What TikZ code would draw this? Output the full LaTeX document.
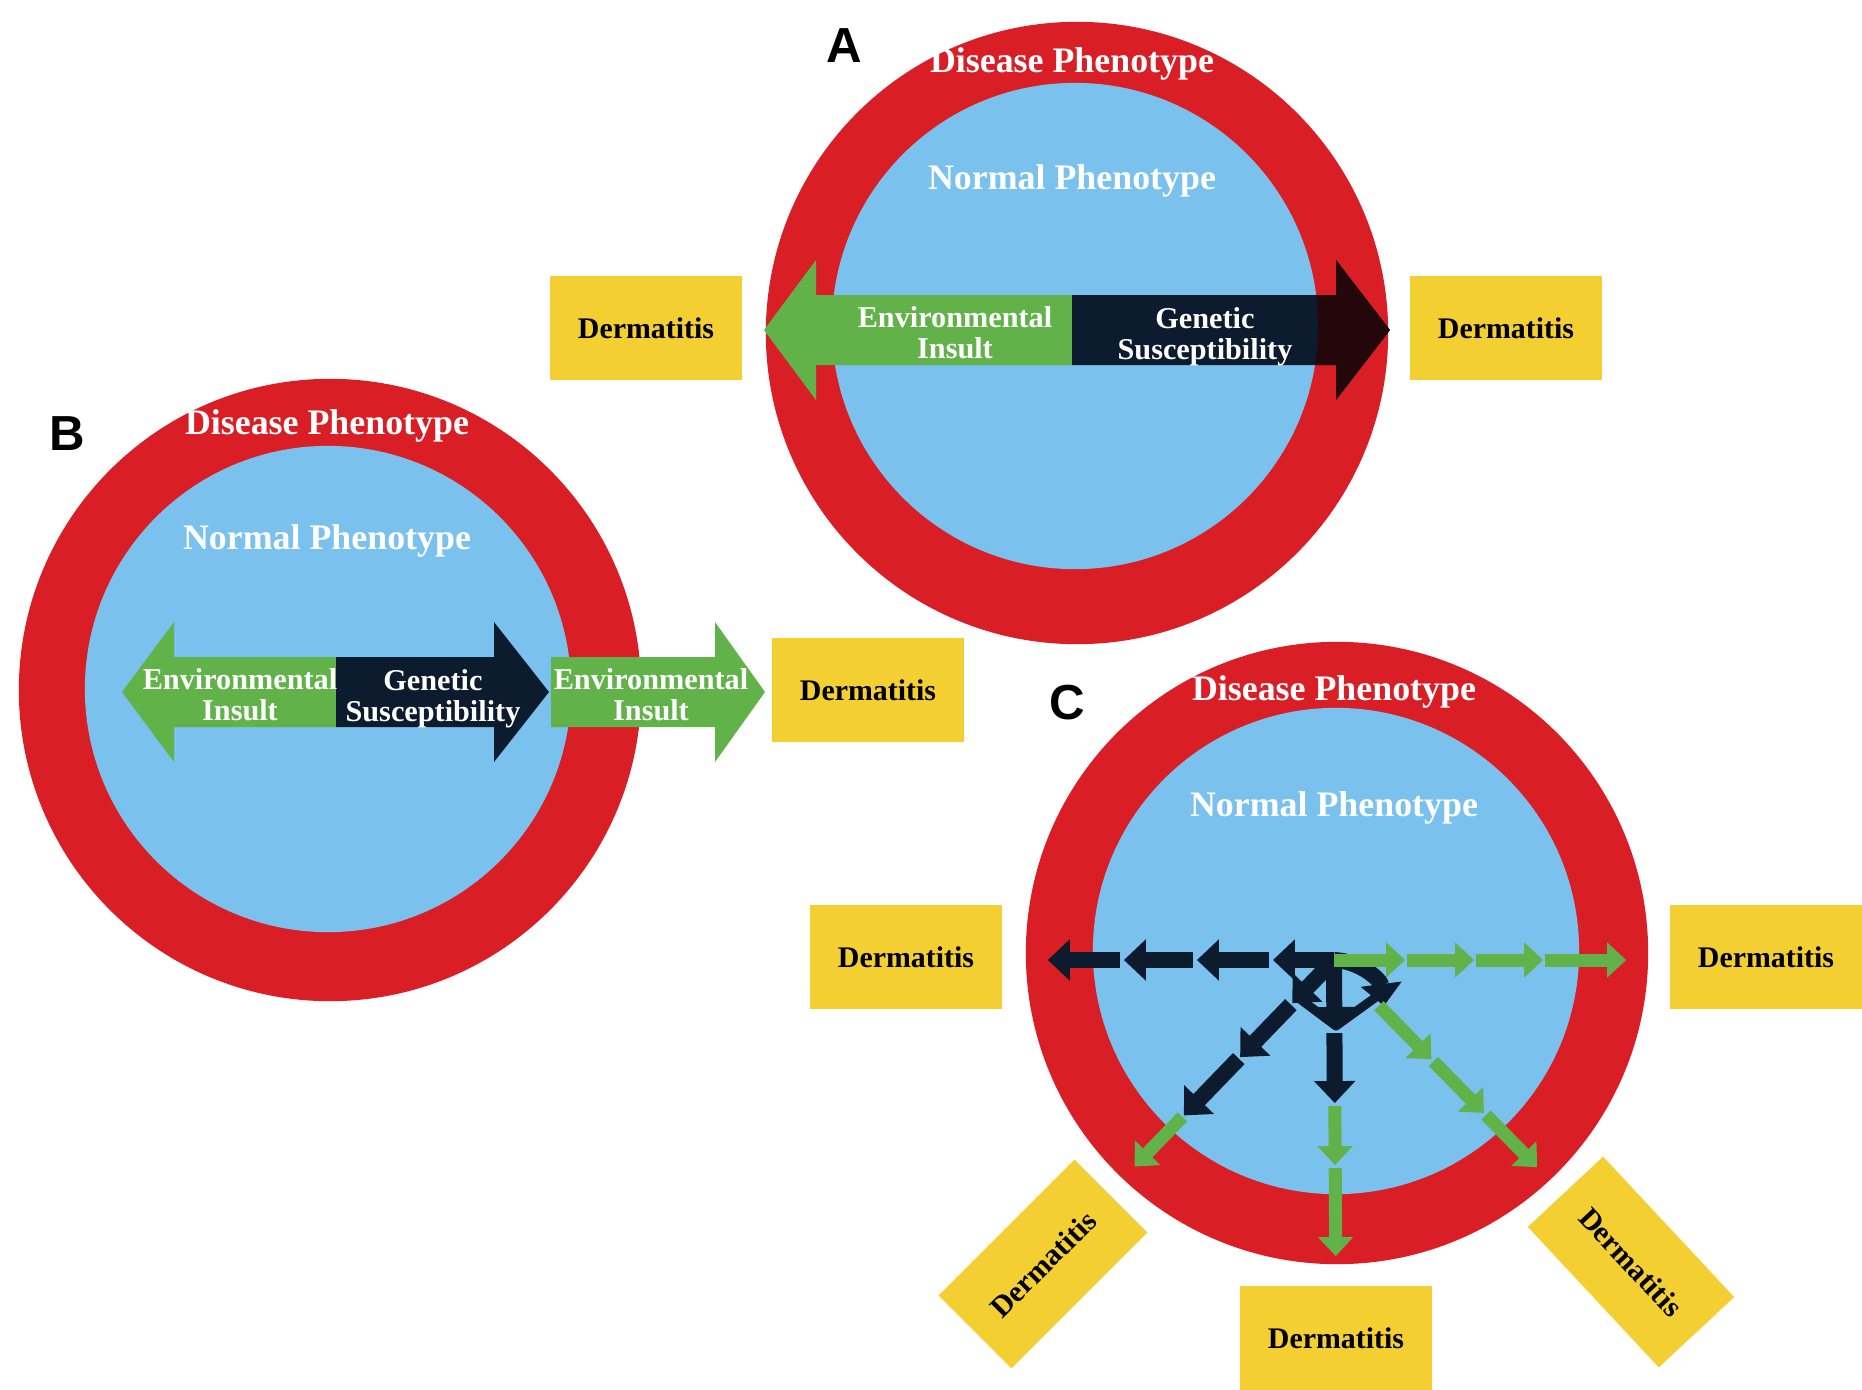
\documentclass[tikz,border=0pt]{standalone}
\usepackage{fontspec}
\setmainfont{Liberation Serif}
\newfontfamily\panelfont{Liberation Sans}
\usepackage{xcolor}
\usepackage{tikz}
\usetikzlibrary{arrows.meta, calc}

\definecolor{ringred}{RGB}{218,30,38}
\definecolor{skyblue}{RGB}{122,193,237}
\definecolor{envgreen}{RGB}{98,178,74}
\definecolor{genenavy}{RGB}{12,27,46}
\definecolor{genemaroon}{RGB}{36,7,11}
\definecolor{boxyellow}{RGB}{244,207,50}

\tikzset{
  ringtext/.style={text=white, font=\bfseries\fontsize{10.2}{12}\selectfont},
  arrowtext/.style={text=white, align=center, inner sep=0pt, font=\bfseries\fontsize{8.6}{8.8}\selectfont},
  dermbox/.style={fill=boxyellow, minimum width=1.92cm, minimum height=1.03cm, inner sep=0pt, font=\bfseries\fontsize{8.5}{10}\selectfont},
  panel/.style={font=\panelfont\bfseries\fontsize{14}{16}\selectfont},
  darkstep/.style={genenavy, line width=0.16cm, -{Triangle[width=0.40cm,length=0.22cm]}},
  greenstep/.style={envgreen, line width=0.13cm, -{Triangle[width=0.34cm,length=0.19cm]}},
}

\begin{document}
\begin{tikzpicture}[x=0.01cm, y=-0.01cm]
  \useasboundingbox (0,0) rectangle (1862,1390);

  % Rings: disease phenotype (red) round normal phenotype (blue)
  \foreach \cx/\cy/\ix/\iy in {1077/333/1075/326, 330/690/328/689, 1337/953/1336/951}{
    \fill[ringred] (\cx,\cy) circle[radius=3.11cm];
    \fill[skyblue] (\ix,\iy) circle[radius=2.43cm];
  }

  % Block arrows of panels A and B
  \foreach \from/\base/\tip/\y/\col in {1072/816/764/330/envgreen, 1072/1336/1390/330/genenavy,
      336/174/122/692/envgreen, 336/494/549/692/genenavy, 551/715/765/692/envgreen}{
    \fill[\col] (\from,\y-35) -- (\base,\y-35) -- (\base,\y-70) -- (\tip,\y)
      -- (\base,\y+70) -- (\base,\y+35) -- (\from,\y+35) -- cycle;
  }
  % darker where the genetic arrow of A lies on the red ring
  \begin{scope}
    \clip (1072,295) -- (1336,295) -- (1336,260) -- (1390,330) -- (1336,400) -- (1336,365) -- (1072,365) -- cycle;
    \fill[genemaroon, even odd rule] (1077,333) circle[radius=3.2cm] (1075,326) circle[radius=2.43cm];
  \end{scope}

  \node[arrowtext] (envA) at (955,333) {Environmental\\Insult};
  \node[arrowtext] (geneA) at (1205,337) {Genetic\\Susceptibility};
  \node[arrowtext] (envB) at (240,695) {Environmental\\Insult};
  \node[arrowtext] (geneB) at (433,699) {Genetic\\Susceptibility};
  \node[arrowtext] (envBout) at (651,695) {Environmental\\Insult};

  % Panel C: stepwise arrows from the hub
  \coordinate (hubC) at (1334,960);
  \coordinate (towardL) at (1000,960);
  \coordinate (towardR) at (1700,960);
  \coordinate (towardDL) at (1134,1167);
  \coordinate (towardD) at (1336,1300);
  \coordinate (towardDR) at (1537,1167);

  \draw[genenavy, line width=0.09cm, line join=round]
    ($(hubC)!0.52cm!(towardDL)$) -- (1336,1026) -- (1376,997);
  \draw[darkstep] (hubC) -- ($(hubC)!0.60cm!(towardDL)$);
  \draw[darkstep] (hubC) -- ($(hubC)!0.69cm!(towardD)$);
  \draw[darkstep] (hubC) to[bend left=40] (1384,1006);

  \foreach \a/\b in {0cm/0.61cm, 0.65cm/1.37cm, 1.41cm/2.10cm, 2.14cm/2.86cm}
    \draw[darkstep] ($(hubC)!\a!(towardL)$) -- ($(hubC)!\b!(towardL)$);
  \foreach \a/\b in {0cm/0.71cm, 0.73cm/1.40cm, 1.42cm/2.09cm, 2.11cm/2.92cm}
    \draw[greenstep] ($(hubC)!\a!(towardR)$) -- ($(hubC)!\b!(towardR)$);
  \foreach \a/\b in {0.62cm/1.35cm, 1.37cm/2.16cm}
    \draw[darkstep] ($(hubC)!\a!(towardDL)$) -- ($(hubC)!\b!(towardDL)$);
  \draw[greenstep] ($(hubC)!2.18cm!(towardDL)$) -- ($(hubC)!2.87cm!(towardDL)$);
  \draw[darkstep] ($(hubC)!0.73cm!(towardD)$) -- ($(hubC)!1.43cm!(towardD)$);
  \foreach \a/\b in {1.46cm/2.05cm, 2.08cm/2.96cm}
    \draw[greenstep] ($(hubC)!\a!(towardD)$) -- ($(hubC)!\b!(towardD)$);
  \foreach \a/\b in {0.64cm/1.39cm, 1.42cm/2.14cm, 2.17cm/2.90cm}
    \draw[greenstep] ($(hubC)!\a!(towardDR)$) -- ($(hubC)!\b!(towardDR)$);

  % Ring labels
  \node[ringtext] (diseaseA) at (1072,64) {Disease Phenotype};
  \node[ringtext] (normalA) at (1072,181) {Normal Phenotype};
  \node[ringtext] (diseaseB) at (327,426) {Disease Phenotype};
  \node[ringtext] (normalB) at (327,541) {Normal Phenotype};
  \node[ringtext] (diseaseC) at (1334,692) {Disease Phenotype};
  \node[ringtext] (normalC) at (1334,808) {Normal Phenotype};

  % Panel letters
  \node[panel] (labelA) at (844,46) {A};
  \node[panel] (labelB) at (67,434) {B};
  \node[panel] (labelC) at (1067,703) {C};

  % Dermatitis boxes
  \node[dermbox] (dermAL) at (646,328) {Dermatitis};
  \node[dermbox] (dermAR) at (1506,328) {Dermatitis};
  \node[dermbox] (dermB) at (868,690) {Dermatitis};
  \node[dermbox] (dermCL) at (906,957) {Dermatitis};
  \node[dermbox] (dermCR) at (1766,957) {Dermatitis};
  \node[dermbox] (dermCB) at (1336,1338) {Dermatitis};
  \node[dermbox, rotate=45] (dermCBL) at (1043,1264) {Dermatitis};
  \node[dermbox, rotate=-47] (dermCBR) at (1631,1262) {Dermatitis};
\end{tikzpicture}
\end{document}
